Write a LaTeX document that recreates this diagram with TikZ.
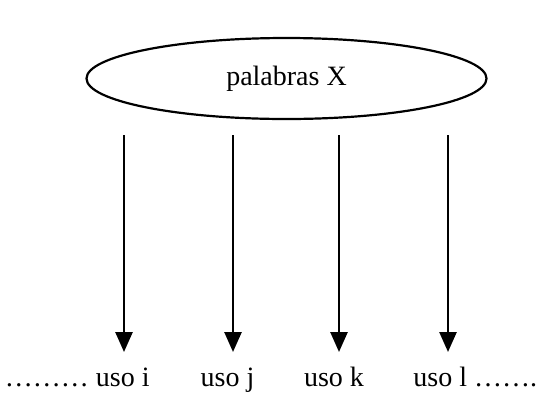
\documentclass[tikz,border=0pt]{standalone}
\usepackage{fontspec}
\setmainfont{Liberation Serif}
\usetikzlibrary{arrows.meta,shapes.geometric,positioning}

\begin{document}
\begin{tikzpicture}[x=0.5pt, y=-0.5pt,
  every node/.style={font=\fontsize{14}{17}\selectfont, inner sep=0pt},
  flecha/.style={line width=1.3pt, -{Triangle[length=10pt,width=8.5pt]}}]
  \useasboundingbox (0,0) rectangle (540,397);
  % word in the ellipse
  \node[draw, ellipse, line width=1.1pt, minimum width=200pt, minimum height=40.5pt] (pal) at (286.5,78.5) {palabras X};
  % uses along the bottom
  \node[anchor=base east] (ui) at (150,386) {……… uso i};
  \node[anchor=base] (uj) at (227.5,386) {uso j};
  \node[anchor=base] (uk) at (334,386) {uso k};
  \node[anchor=base west] (ul) at (413,386) {uso l …….};
  % arrows
  \foreach \n/\x in {i/124, j/233, k/339, l/448} {
    \coordinate (a\n) at (\x,135);
    \coordinate (b\n) at (\x,352);
    \draw[flecha] (a\n) -- (b\n);
  }
\end{tikzpicture}
\end{document}
